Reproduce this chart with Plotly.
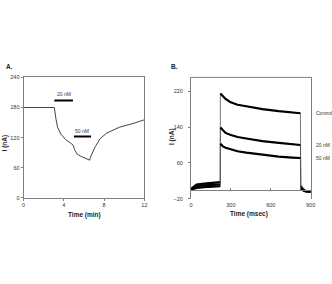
import plotly.graph_objects as go

# ---- Panel A data ----
a_time = [0, 3.05, 3.21, 3.37, 3.70, 4.18, 4.67, 4.93, 5.06, 5.32, 5.66, 6.15, 6.45, 6.57,
          6.62, 6.94, 7.12, 7.43, 7.6, 8.26, 9.21, 9.56, 10.86, 12]
a_current = [180, 180, 158, 141, 127, 116, 109, 105, 96, 87, 83, 78, 76, 75,
             80, 95, 102, 112, 118, 129, 138, 141, 148, 155.5]
a_bar_labels = ["20 nM", "50 nM"]
a_bar_start = [3.05, 5.0]
a_bar_end = [4.9, 6.7]
a_bar_level = [194, 122]

# ---- Panel B data ----
b_time = [0, 42, 100, 160, 220, 221, 240, 260, 294, 350, 416, 537, 660, 760, 823,
          826, 840, 860, 900]
b_control = [2, 12, 14, 16, 17, 215, 208, 203, 196, 190, 186.5, 180, 175.6, 173, 171,
             8, 2, -3, -4]
b_20nm = [1, 8, 10, 11, 12, 139, 132, 127, 123, 118, 114.5, 108.7, 105, 102, 100,
          4, 0, -3, -4]
b_50nm = [0, 4, 6, 7, 8, 103, 97, 94, 90.5, 86, 83, 78, 74, 72, 71,
          2, -1, -3, -4]
b_names = ["Control", "20 nM", "50 nM"]
# segments of the sweep (index ranges): pre-pulse, pulse, post-pulse
b_segments = [(0, 5), (5, 15), (15, 19)]

FONT = "Liberation Sans, Arial, sans-serif"
AX = "#808080"
TXT = "#333333"

fig = go.Figure()

fig.add_trace(go.Scatter(x=a_time, y=a_current, mode="lines",
                         line=dict(color="#444444", width=1), xaxis="x", yaxis="y",
                         showlegend=False))
for lab, s, e, lv in zip(a_bar_labels, a_bar_start, a_bar_end, a_bar_level):
    fig.add_trace(go.Scatter(x=[s, e], y=[lv, lv], mode="lines",
                             line=dict(color="black", width=2), xaxis="x", yaxis="y",
                             showlegend=False))
    fig.add_annotation(x=(s + e) / 2, y=lv, xref="x", yref="y", text=lab,
                       showarrow=False, xanchor="center", yanchor="bottom", yshift=1,
                       font=dict(family=FONT, size=5, color=TXT))

for name, vals in zip(b_names, [b_control, b_20nm, b_50nm]):
    # thin connecting sweep (steps)
    fig.add_trace(go.Scatter(x=b_time, y=vals, mode="lines",
                             line=dict(color="#555555", width=0.8), xaxis="x2", yaxis="y2",
                             showlegend=False))
    for i0, i1 in b_segments:
        fig.add_trace(go.Scatter(x=b_time[i0:i1], y=vals[i0:i1], mode="lines",
                                 line=dict(color="black", width=2.2), xaxis="x2",
                                 yaxis="y2", showlegend=False))
    fig.add_annotation(x=317.5 / 332, y=vals[14], xref="paper", yref="y2", text=name,
                       showarrow=False, xanchor="left", yanchor="middle",
                       font=dict(family=FONT, size=5, color=TXT))

W, H = 332, 284
def px(x): return x / W
def py(y): return (H - y) / H

tickfont = dict(family=FONT, size=5.5, color=TXT)

fig.update_layout(
    width=W, height=H, margin=dict(l=0, r=0, t=0, b=0),
    paper_bgcolor="white", plot_bgcolor="white",
    xaxis=dict(domain=[px(22), px(145)], range=[0, 12], anchor="y",
               tickvals=[0, 4, 8, 12], showline=True, linecolor=AX, linewidth=1,
               mirror=True, ticks="outside", ticklen=2, tickcolor=AX,
               showgrid=False, zeroline=False, tickfont=tickfont),
    yaxis=dict(domain=[py(199), py(76)], range=[0, 240], anchor="x",
               tickvals=[0, 60, 120, 180, 240], showline=True, linecolor=AX, linewidth=1,
               mirror=True, ticks="outside", ticklen=2, tickcolor=AX,
               showgrid=False, zeroline=False, tickfont=tickfont),
    xaxis2=dict(domain=[px(192.5), px(315)], range=[0, 905], anchor="free",
                position=py(191),
                tickvals=[0, 300, 600, 900], showline=True, linecolor=AX, linewidth=1,
                ticks="inside", ticklen=2, tickcolor=AX, ticklabelstandoff=9,
                showgrid=False, zeroline=False, tickfont=tickfont),
    yaxis2=dict(domain=[py(200), py(76)], range=[-20, 251], anchor="x2",
                tickvals=[-20, 60, 140, 220], showline=True, linecolor=AX, linewidth=1,
                mirror=True, ticks="outside", ticklen=2, tickcolor=AX,
                ticklabelstandoff=4,
                showgrid=False, zeroline=False, tickfont=tickfont),
)

# top border of panel B
fig.add_shape(type="line", xref="x2 domain", yref="y2 domain", x0=0, x1=1, y0=1, y1=1,
              line=dict(color=AX, width=1))

ttl = dict(family=FONT, size=6.5, color="#222222")
def label(x, y, text, angle=0, xa="center"):
    fig.add_annotation(x=px(x), y=py(y), xref="paper", yref="paper", text=text,
                       showarrow=False, textangle=angle, xanchor=xa, yanchor="middle",
                       font=ttl)

label(84, 216.5, "<b>Time (min)</b>")
label(252, 216, "<b>Time (msec)</b>")
label(3.5, 143, "<b>I (nA)</b>", angle=-90)
label(173, 136, "<b>I (nA)</b>", angle=-90)
label(2, 65, "<b>A.</b>", xa="left")
label(170, 65, "<b>B.</b>", xa="left")

fig.write_html("out.html")
